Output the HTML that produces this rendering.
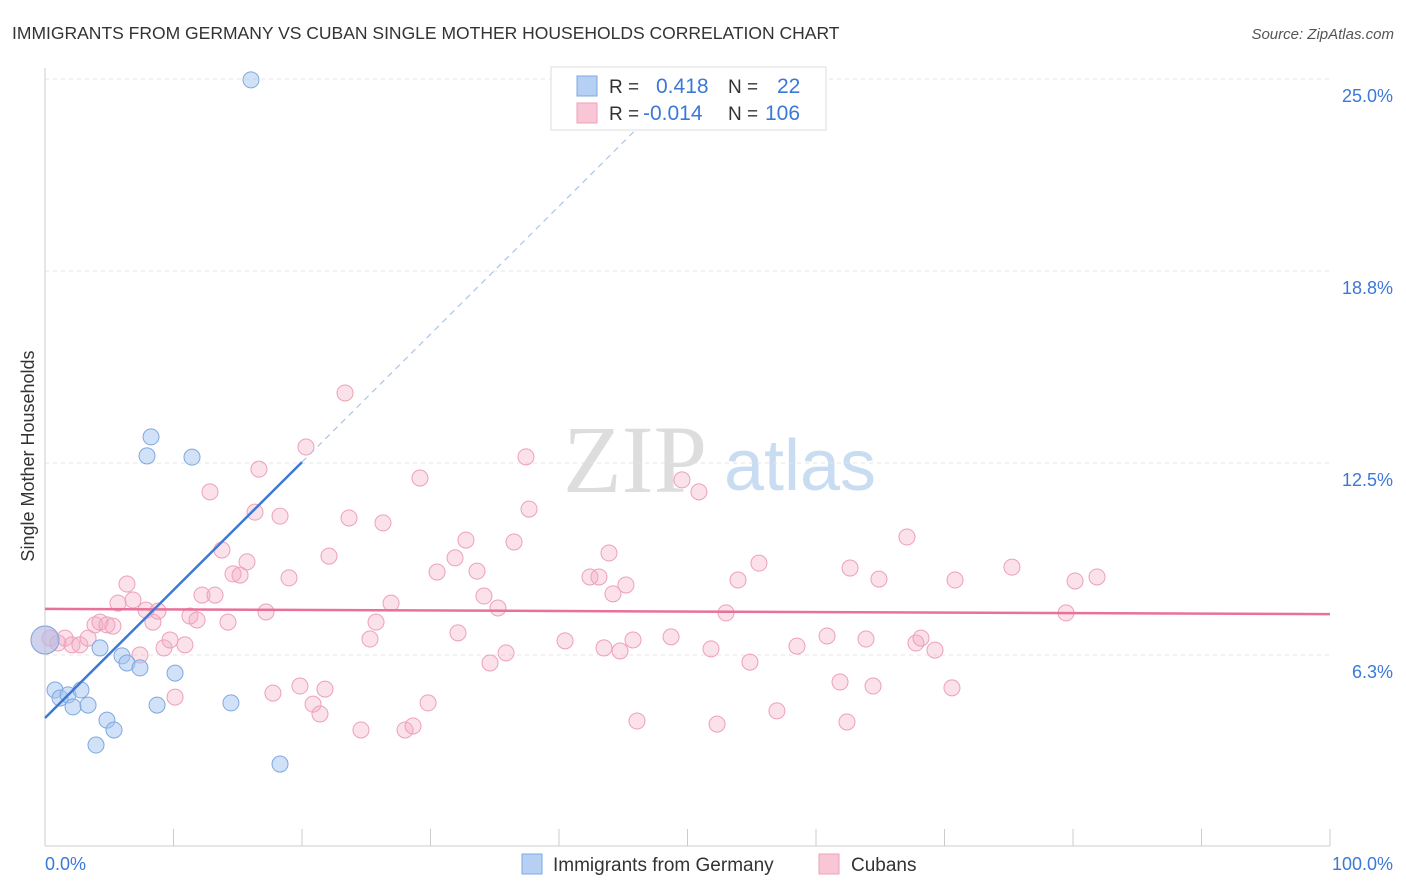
<!DOCTYPE html>
<html><head><meta charset="utf-8"><style>
body{margin:0;background:#fff;font-family:"Liberation Sans",sans-serif;}
svg{display:block}
</style></head><body>
<svg id="chart" width="1406" height="892">
<text x="12" y="39" font-size="17.5" fill="#333">IMMIGRANTS FROM GERMANY VS CUBAN SINGLE MOTHER HOUSEHOLDS CORRELATION CHART</text>
<text x="1394" y="39" font-size="15" fill="#555" font-style="italic" text-anchor="end">Source: ZipAtlas.com</text>
<text x="0" y="0" transform="translate(34,456) rotate(-90)" font-size="18" fill="#333" text-anchor="middle">Single Mother Households</text>
<g><text x="635" y="492" font-size="96" font-family="Liberation Serif,serif" fill="#ddd" text-anchor="middle">ZIP</text><text x="800" y="490" font-size="72" fill="#c8dcf2" text-anchor="middle">atlas</text></g>
<g id="grid"></g><g id="axes"></g><g id="marks"></g>
<g>
<rect x="551" y="67" width="275" height="63" fill="#fff" stroke="#ddd"/>
<rect x="577" y="76" width="20" height="20" fill="#b6d0f3" stroke="#7fa8e0"/>
<rect x="577" y="103" width="20" height="20" fill="#f9c6d6" stroke="#eea0b8"/>
<text x="609" y="93" font-size="19" fill="#333">R =</text><text x="656" y="93" font-size="21" fill="#3b78d8">0.418</text>
<text x="728" y="93" font-size="19" fill="#333">N =</text><text x="777" y="93" font-size="21" fill="#3b78d8">22</text>
<text x="609" y="120" font-size="19" fill="#333">R =</text><text x="643" y="120" font-size="21" fill="#3b78d8">-0.014</text>
<text x="728" y="120" font-size="19" fill="#333">N =</text><text x="765" y="120" font-size="21" fill="#3b78d8">106</text>
</g>
<g>
<rect x="522" y="854" width="20" height="20" fill="#b6d0f3" stroke="#7fa8e0"/>
<text x="553" y="871" font-size="19" fill="#333">Immigrants from Germany</text>
<rect x="819" y="854" width="20" height="20" fill="#f9c6d6" stroke="#eea0b8"/>
<text x="851" y="871" font-size="19" fill="#333">Cubans</text>
</g>
</svg>
<script>
const yTicks=[6.3,12.5,18.8,25.0];
const yTickVals=[6.25,12.5,18.75,25];
const blueX=[0,0.78,1.17,1.79,2.18,2.80,3.35,3.97,4.28,4.82,5.37,5.99,6.38,7.39,7.94,8.25,8.72,10.12,11.44,14.47,16.03,18.29];
const blueY=[6.74,5.11,4.85,4.95,4.56,5.11,4.62,3.32,6.48,4.13,3.81,6.22,5.99,5.83,12.73,13.35,4.62,5.66,12.69,4.69,24.97,2.70];
const pinkX=[0,.39,1.01,1.56,2.10,2.72,3.35,3.89,4.28,4.82,5.29,5.68,6.38,6.85,7.39,7.86,8.40,8.79,9.26,9.73,10.12,10.89,11.28,11.83,12.22,12.84,13.23,13.77,14.24,14.63,15.18,15.72,16.34,16.65,17.20,17.74,18.29,18.99,19.84,20.31,20.86,21.40,21.79,22.10,23.35,23.66,24.59,25.29,25.76,26.30,26.93,28.02,28.64,29.18,29.81,30.51,31.91,32.14,32.76,33.62,34.16,34.63,35.25,35.88,36.50,37.43,37.67,40.47,42.41,43.11,43.50,43.89,44.20,44.75,45.21,45.76,46.07,48.72,49.57,50.89,51.83,52.30,53.00,53.93,54.86,55.56,56.96,58.52,60.86,61.87,62.41,62.65,63.89,64.44,64.90,67.08,67.78,68.17,69.26,70.58,70.82,75.25,79.46,80.16,81.87];
const pinkY=[6.74,6.80,6.64,6.80,6.58,6.58,6.80,7.23,7.32,7.23,7.19,7.94,8.56,8.04,6.25,7.71,7.32,7.68,6.48,6.74,4.88,6.58,7.52,7.39,8.20,11.56,8.20,9.67,7.32,8.89,8.85,9.28,10.90,12.30,7.65,5.01,10.77,8.76,5.24,13.02,4.65,4.33,5.14,9.47,14.78,10.71,3.81,6.77,7.32,10.55,7.94,3.81,3.94,12.01,4.69,8.95,9.41,6.97,9.99,8.98,8.17,5.99,7.78,6.32,9.93,12.70,11.00,6.71,8.79,8.79,6.48,9.57,8.24,6.38,8.53,6.74,4.10,6.84,11.95,11.56,6.45,4.00,7.62,8.69,6.02,9.24,4.43,6.54,6.87,5.37,4.07,9.08,6.77,5.24,8.72,10.09,6.64,6.80,6.41,5.18,8.69,9.11,7.62,8.66,8.79];
const blueTrend=[4.20,0.4165];
const pinkTrend=[7.75,-0.0017];
const NS="http://www.w3.org/2000/svg";
const X=v=>45+v*12.85, Y=v=>847-v*30.72;
function mk(p,t,a){const e=document.createElementNS(NS,t);for(const k in a)e.setAttribute(k,a[k]);p.appendChild(e);return e;}
const grid=document.getElementById('grid'),axes=document.getElementById('axes'),marks=document.getElementById('marks');
yTickVals.forEach((v,i)=>{
 const l=mk(grid,'line',{x1:45,x2:1330,y1:Y(v),y2:Y(v),stroke:'#e4e4e4','stroke-dasharray':'4,4'});
 
 
 const t=mk(axes,'text',{x:1393,y:Y(v)+23,'font-size':18,fill:'#3b78d8','text-anchor':'end'});
 t.textContent=yTicks[i].toFixed(1)+'%';
 
 
});
const ax=mk(axes,'line',{x1:45,x2:45,y1:68,y2:846,stroke:'#ccc'});


const bx=mk(axes,'line',{x1:45,x2:1330,y1:846,y2:846,stroke:'#ccc'});


for(let i=0;i<=10;i++){const t=mk(axes,'line',{x1:X(i*10),x2:X(i*10),y1:829,y2:846,stroke:'#ccc'});
 
 }
[['0.0%',45,'start'],['100.0%',1393,'end']].forEach(d=>{const t=mk(axes,'text',{x:d[1],y:870,'font-size':18,fill:'#3b78d8','text-anchor':d[2]});t.textContent=d[0];
 
 });
pinkX.forEach((x,i)=>{const c=mk(marks,'circle',{cx:X(x),cy:Y(pinkY[i]),r:i==0?14:8,fill:'rgba(244,170,195,0.35)',stroke:'#eea0b8','stroke-width':1});
 
 });
blueX.forEach((x,i)=>{const c=mk(marks,'circle',{cx:X(x),cy:Y(blueY[i]),r:i==0?14:8,fill:'rgba(164,196,240,0.5)',stroke:'#7fa8e0','stroke-width':1});
 
 });
const pl=mk(marks,'line',{x1:X(0),y1:Y(pinkTrend[0]),x2:X(100),y2:Y(pinkTrend[0]+pinkTrend[1]*100),stroke:'#e8719a','stroke-width':2.5});


const bl=mk(marks,'line',{x1:X(0),y1:Y(blueTrend[0]),x2:X(20),y2:Y(blueTrend[0]+blueTrend[1]*20),stroke:'#3b78d8','stroke-width':2.5});


const bd=mk(marks,'line',{x1:X(20),y1:Y(blueTrend[0]+blueTrend[1]*20),x2:X(45.8),y2:Y(blueTrend[0]+blueTrend[1]*45.8),stroke:'#a9c4ec','stroke-width':1.2,'stroke-dasharray':'6,5'});


</script>
</body></html>
